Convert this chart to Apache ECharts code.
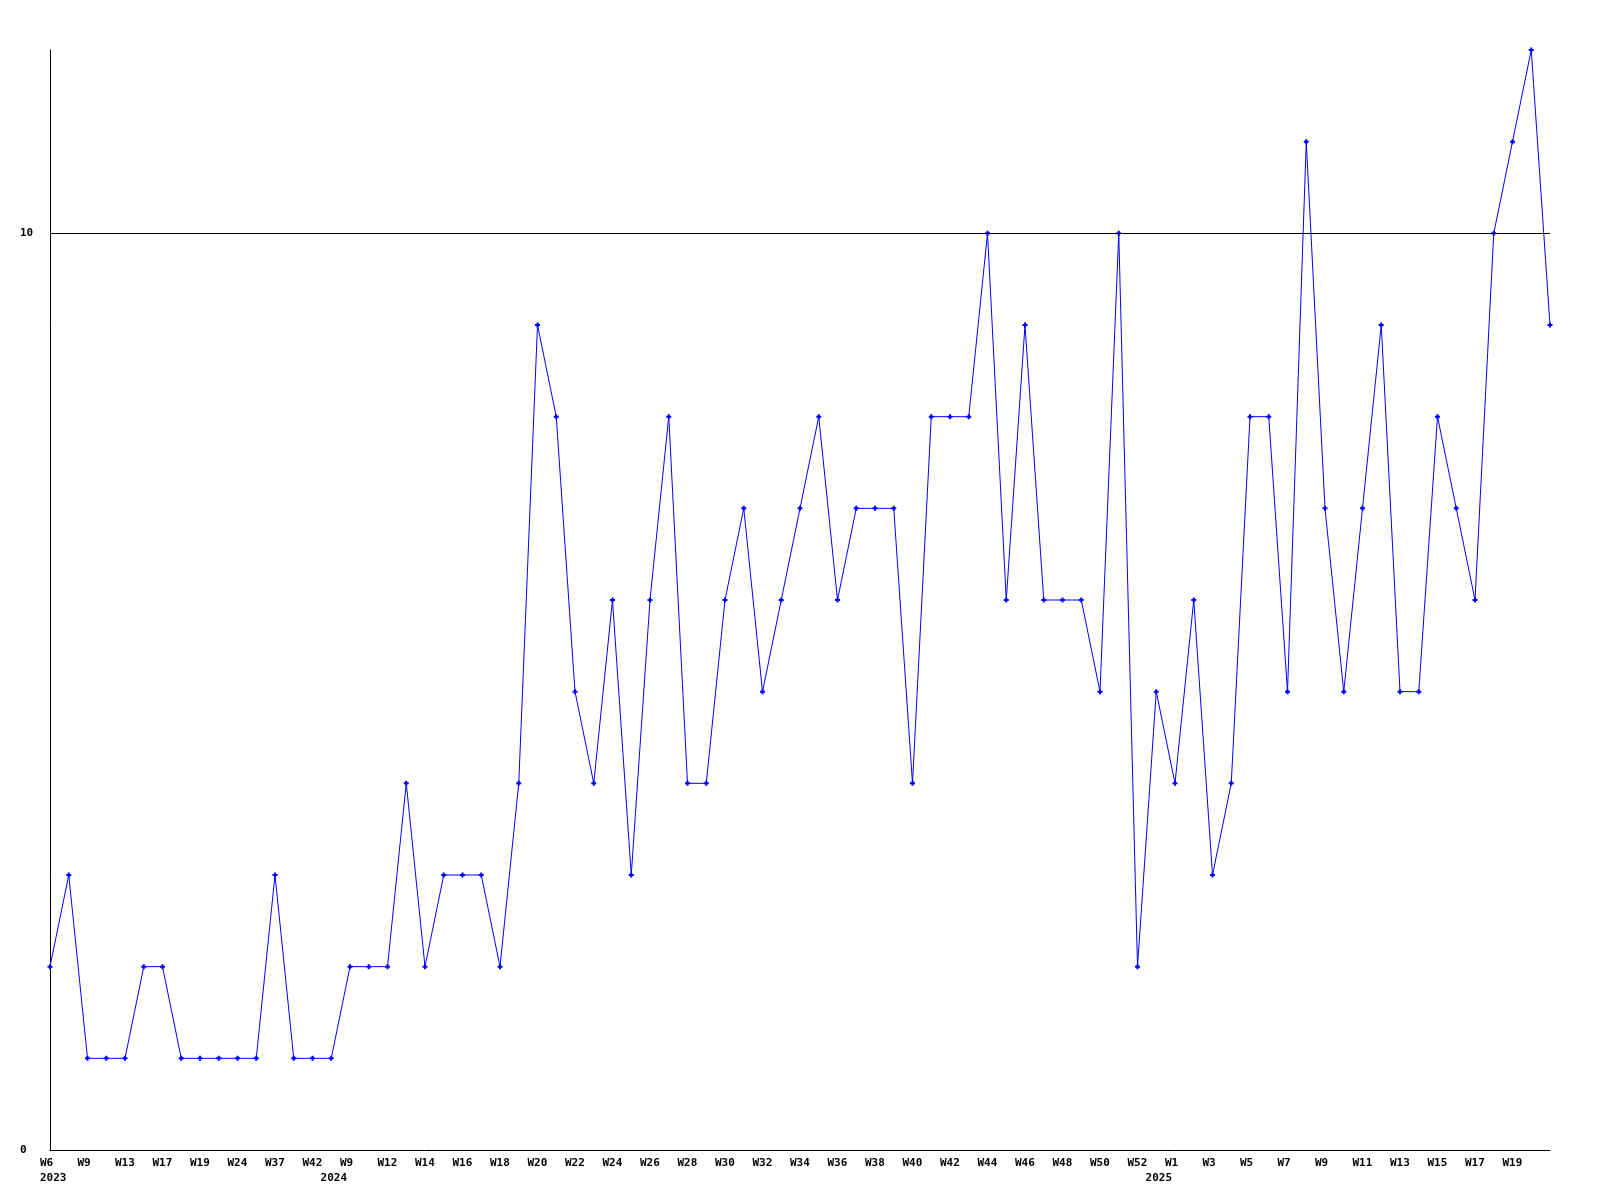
<!DOCTYPE html>
<html>
<head>
<meta charset="utf-8">
<script src="https://cdn.jsdelivr.net/npm/echarts@6/dist/echarts.min.js"></script>
<style>
html,body{margin:0;padding:0;background:#fff;}
#chart{width:1600px;height:1200px;}
</style>
</head>
<body>
<div id="chart"></div>
<script>
// Categories (year-week)
var categories = [
  "2023-W6","2023-W7","2023-W9","2023-W11","2023-W13","2023-W15","2023-W17","2023-W18",
  "2023-W19","2023-W22","2023-W24","2023-W30","2023-W37","2023-W40","2023-W42","2023-W47",
  "2024-W9","2024-W10","2024-W12","2024-W13","2024-W14","2024-W15","2024-W16","2024-W17",
  "2024-W18","2024-W19","2024-W20","2024-W21","2024-W22","2024-W23","2024-W24","2024-W25",
  "2024-W26","2024-W27","2024-W28","2024-W29","2024-W30","2024-W31","2024-W32","2024-W33",
  "2024-W34","2024-W35","2024-W36","2024-W37","2024-W38","2024-W39","2024-W40","2024-W41",
  "2024-W42","2024-W43","2024-W44","2024-W45","2024-W46","2024-W47","2024-W48","2024-W49",
  "2024-W50","2024-W51","2024-W52","2024-W53",
  "2025-W1","2025-W2","2025-W3","2025-W4","2025-W5","2025-W6","2025-W7","2025-W8",
  "2025-W9","2025-W10","2025-W11","2025-W12","2025-W13","2025-W14","2025-W15","2025-W16",
  "2025-W17","2025-W18","2025-W19","2025-W20","2025-W21"
];
// Series values
var values = [
  2,3,1,1,1,2,2,1,
  1,1,1,1,3,1,1,1,
  2,2,2,4,2,3,3,3,
  2,4,9,8,5,4,6,3,
  6,8,4,4,6,7,5,6,
  7,8,6,7,7,7,4,8,
  8,8,10,6,9,6,6,6,
  5,10,2,5,
  4,6,3,4,8,8,5,11,
  7,5,7,9,5,5,8,7,
  6,10,11,12,9
];
// Y tick labels
var yTicks = [0, 10];
var refLine = 10;

var chart = echarts.init(document.getElementById('chart'), null, {renderer: 'canvas'});
var fontFam = '"DejaVu Sans Mono", "Liberation Mono", monospace';
var txt = {fontFamily: fontFam, fontWeight: 'bold', fontSize: 11, lineHeight: 15, color: '#000'};
function rs(extra) { var o = {}; for (var k in txt) o[k] = txt[k]; for (var k2 in extra) o[k2] = extra[k2]; return o; }
chart.setOption({
  animation: false,
  backgroundColor: '#ffffff',
  grid: {left: 50, right: 50, top: 50, bottom: 50, containLabel: false},
  xAxis: {
    type: 'category',
    data: categories,
    boundaryGap: false,
    axisLine: {show: true, lineStyle: {color: '#000', width: 1}},
    axisTick: {show: false},
    splitLine: {show: false},
    axisLabel: {
      interval: function (idx) { return idx % 2 === 0 && idx < categories.length - 1; },
      showMinLabel: true,
      showMaxLabel: true,
      hideOverlap: false,
      margin: 6,
      align: 'center',
      width: 20,
      overflow: 'none',
      color: '#000',
      fontFamily: fontFam,
      fontWeight: 'bold',
      fontSize: 11,
      lineHeight: 15,
      formatter: function (val, idx) {
        var parts = val.split('-');
        var prev = idx > 0 ? categories[idx - 1].split('-')[0] : null;
        var s = '{w|' + parts[1] + '}';
        if (parts[0] !== prev) {
          s += '\n{' + (idx === 0 ? 'y0' : 'y') + '|' + parts[0] + '}';
        }
        return s;
      },
      rich: {
        w: rs({align: 'left'}),
        y: rs({align: 'right', padding: [0, 13, 0, 0]}),
        y0: rs({align: 'left'})
      }
    }
  },
  yAxis: {
    type: 'value',
    min: 0,
    max: 12,
    interval: 10,
    axisLine: {show: true, lineStyle: {color: '#000', width: 1}},
    axisTick: {show: false},
    splitLine: {show: false},
    axisLabel: {
      customValues: yTicks,
      align: 'left',
      margin: 30,
      color: '#000',
      fontFamily: fontFam,
      fontWeight: 'bold',
      fontSize: 11
    }
  },
  series: [{
    type: 'line',
    data: values,
    symbol: 'path://M3,0H7V3H10V7H7V10H3V7H0V3H3Z',
    symbolSize: 5,
    showAllSymbol: true,
    lineStyle: {color: '#0000ff', width: 1},
    itemStyle: {color: '#0000ff'},
    markLine: {
      silent: true,
      symbol: 'none',
      label: {show: false},
      lineStyle: {color: '#000', width: 1, type: 'solid'},
      data: [{yAxis: refLine}]
    }
  }]
});
</script>
</body>
</html>
